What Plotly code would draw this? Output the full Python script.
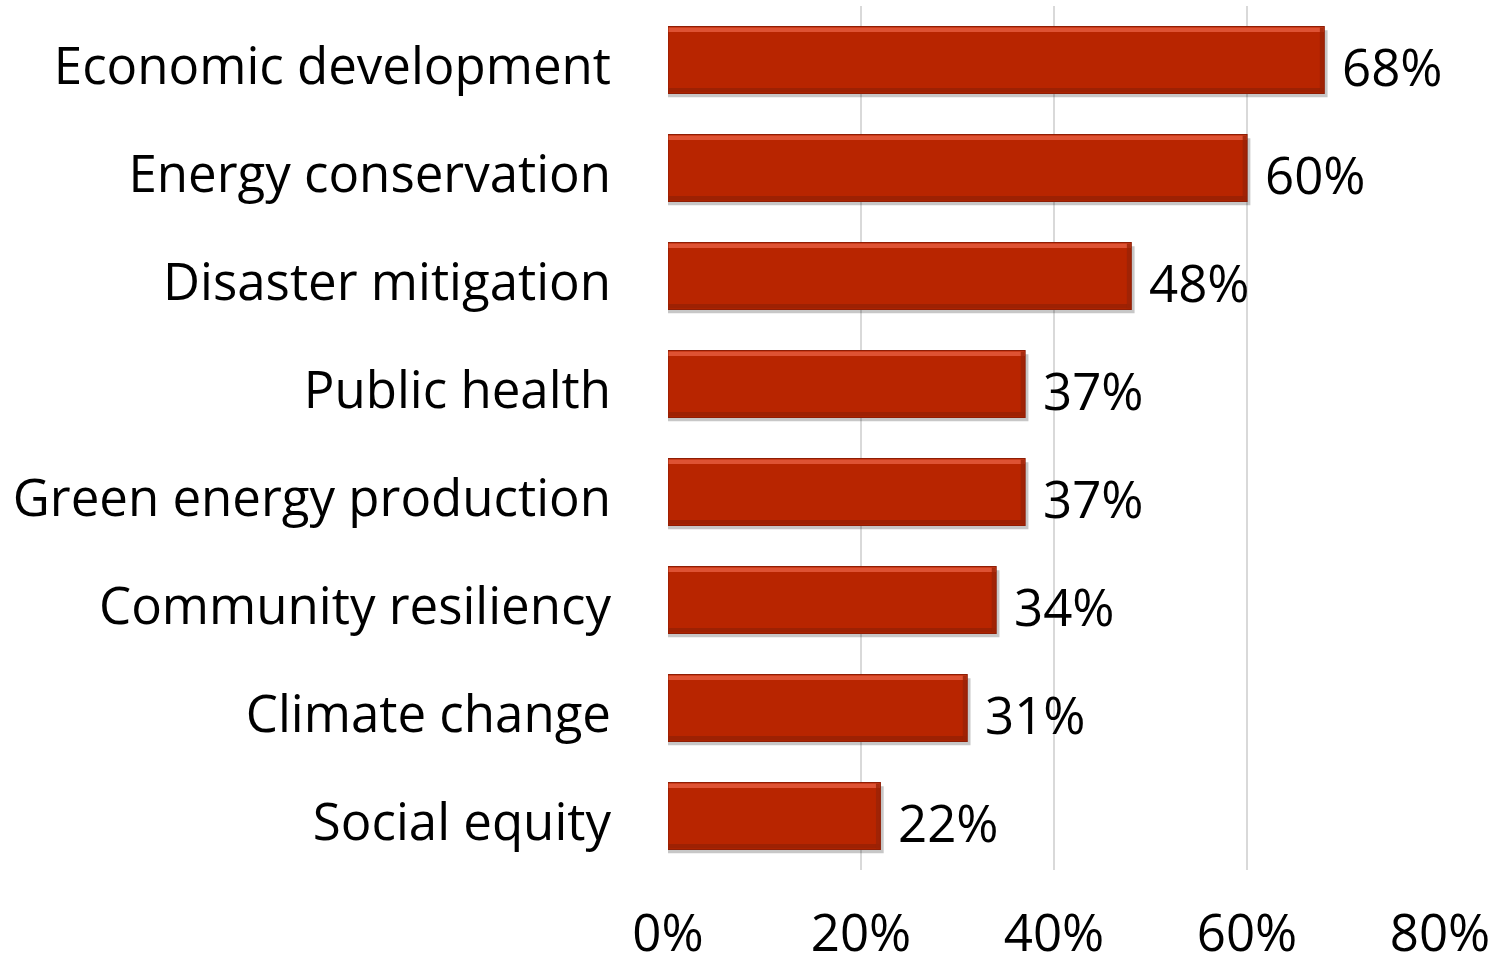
import plotly.graph_objects as go

categories = [
    "Economic development",
    "Energy conservation",
    "Disaster mitigation",
    "Public health",
    "Green energy production",
    "Community resiliency",
    "Climate change",
    "Social equity",
]
values = [68, 60, 48, 37, 37, 34, 31, 22]
x_ticks = [0, 20, 40, 60, 80]
x_tick_labels = ["0%", "20%", "40%", "60%", "80%"]

FONT = "Open Sans"
FS = 51
BAR_W = 0.62
positions = list(range(len(categories)))

fig = go.Figure()

# soft drop shadow under each bar
fig.add_trace(go.Bar(
    x=[v + 0.35 for v in values], y=[p + 0.035 for p in positions],
    orientation="h", width=BAR_W,
    marker=dict(color="rgba(0,0,0,0.22)", line=dict(width=0)),
    hoverinfo="skip", showlegend=False,
))

fig.add_trace(go.Bar(
    x=values, y=positions, orientation="h", width=BAR_W,
    marker=dict(color="#B82500", line=dict(color="#8E1D05", width=1.2)),
    showlegend=False,
))

# bevel highlight along the top edge and darker lower/right edges
shapes = []
for p, v in zip(positions, values):
    top = p - BAR_W / 2
    bot = p + BAR_W / 2
    shapes.append(dict(type="rect", xref="x", yref="y", x0=0.05, x1=v - 0.05,
                       y0=top + 0.01, y1=top + 0.05, fillcolor="#E45A3C",
                       line=dict(width=0), opacity=0.85))
    shapes.append(dict(type="rect", xref="x", yref="y", x0=0.05, x1=v - 0.05,
                       y0=bot - 0.05, y1=bot - 0.01, fillcolor="#962004",
                       line=dict(width=0), opacity=0.8))
    shapes.append(dict(type="rect", xref="x", yref="y", x0=v - 0.45, x1=v - 0.05,
                       y0=top + 0.01, y1=bot - 0.01, fillcolor="#9A2306",
                       line=dict(width=0), opacity=0.8))

annotations = [
    dict(x=v, y=p, xref="x", yref="y", text=f"{v}%", showarrow=False,
         xanchor="left", yanchor="middle", xshift=16, yshift=-6,
         font=dict(family=FONT, size=FS, color="black"))
    for p, v in zip(positions, values)
]

fig.update_layout(
    width=1497, height=970,
    margin=dict(l=668, r=57, t=6, b=100, autoexpand=False),
    plot_bgcolor="white", paper_bgcolor="white",
    barmode="overlay",
    shapes=shapes, annotations=annotations,
    font=dict(family=FONT, size=FS, color="black"),
    xaxis=dict(range=[0, 80], tickvals=x_ticks, ticktext=x_tick_labels,
               showgrid=True, gridcolor="#D9D9D9", gridwidth=1.5,
               zeroline=False, showline=False, ticks="", automargin=False,
               ticklabelstandoff=29, fixedrange=True),
    yaxis=dict(range=[len(categories) - 0.5, -0.5], tickvals=positions,
               ticktext=categories, showgrid=False, zeroline=False,
               showline=False, ticks="", automargin=False,
               ticklabelstandoff=56, ticklabelshift=-6, fixedrange=True),
)

fig.write_html("out.html")
